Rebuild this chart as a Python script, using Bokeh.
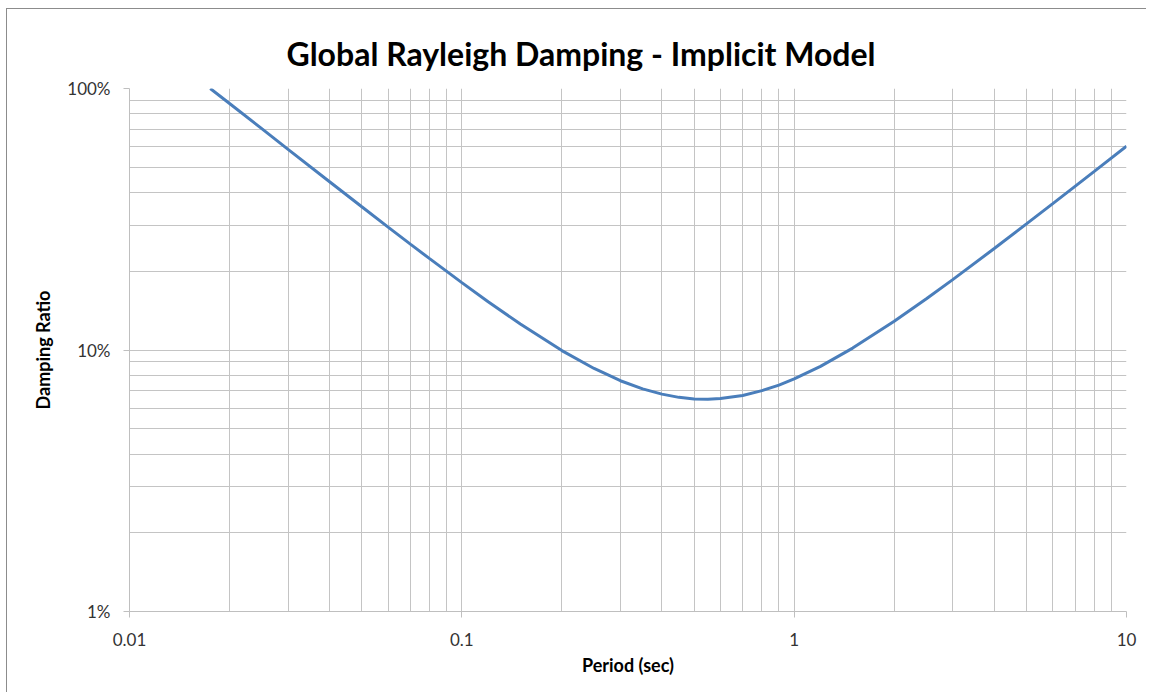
from bokeh.plotting import figure
from bokeh.models import FixedTicker, CustomJSTickFormatter, ColumnDataSource
from bokeh.embed import file_html
from bokeh.resources import INLINE

# Data
period = [0.0175, 0.02, 0.025, 0.03, 0.04, 0.05, 0.06, 0.07, 0.08, 0.1, 0.12, 0.15,
          0.2, 0.25, 0.3, 0.35, 0.4, 0.45, 0.5, 0.55, 0.6, 0.7, 0.8, 0.9, 1.0,
          1.2, 1.5, 2.0, 2.5, 3.0, 4.0, 5.0, 6.0, 7.0, 8.0, 10.0]
damping = [1.0, 0.876, 0.702, 0.585, 0.440, 0.353, 0.295, 0.254, 0.2235, 0.181, 0.153, 0.1257,
           0.0995, 0.085, 0.0763, 0.071, 0.0678, 0.0659, 0.065, 0.0648, 0.0652, 0.067, 0.0699, 0.0734, 0.0775,
           0.0866, 0.1017, 0.1288, 0.157, 0.1858, 0.2444, 0.3035, 0.3629, 0.4225, 0.4822, 0.6018]

x_major = [0.01, 0.1, 1, 10]
y_major = [0.01, 0.1, 1]
x_grid = [m * d for d in [0.01, 0.1, 1] for m in range(1, 10)] + [10]
y_grid = [m * d for d in [0.01, 0.1] for m in range(1, 10)] + [1]

title_text = "Global Rayleigh Damping - Implicit Model"
x_label = "Period (sec)"
y_label = "Damping Ratio"

src = ColumnDataSource(dict(period=period, damping=damping))

p = figure(width=1140, height=684, x_axis_type="log", y_axis_type="log",
           x_range=(0.01, 10), y_range=(0.01, 1),
           output_backend="svg", toolbar_location=None,
           min_border_left=122, min_border_right=21, min_border_top=79, min_border_bottom=82,
           title=title_text)
p.styles = {"border-left": "1px solid #8c8c8c", "border-top": "1px solid #8c8c8c",
            "margin-left": "6px", "margin-top": "8px"}

p.title.text_font = "Lato"
p.title.text_font_size = "32px"
p.title.text_font_style = "bold"
p.title.text_color = "#000000"
p.title.align = "left"
p.title.offset = 157
p.title.standoff = 32

p.outline_line_color = None
p.background_fill_color = "white"
p.border_fill_color = "white"

p.line("period", "damping", source=src, line_color="#4a7ebb", line_width=3)

for ax in (p.xaxis[0], p.yaxis[0]):
    ax.axis_line_color = "#bfbfbf"
    ax.major_tick_line_color = "#bfbfbf"
    ax.minor_tick_line_color = None
    ax.major_tick_in = 0
    ax.major_tick_out = 6
    ax.major_label_text_font = "Lato"
    ax.major_label_text_font_size = "17px"
    ax.major_label_text_color = "#333333"
    ax.axis_label_text_font = "Lato"
    ax.axis_label_text_font_size = "18px"
    ax.axis_label_text_font_style = "bold"
    ax.axis_label_text_color = "#000000"

p.xaxis[0].ticker = FixedTicker(ticks=x_major)
p.yaxis[0].ticker = FixedTicker(ticks=y_major)
p.xaxis[0].formatter = CustomJSTickFormatter(code="return tick >= 1 ? tick.toFixed(0) : parseFloat(tick.toPrecision(1)).toString();")
p.yaxis[0].formatter = CustomJSTickFormatter(code="return Math.round(tick*100).toString() + '%';")
p.xaxis[0].axis_label = x_label
p.yaxis[0].axis_label = y_label
p.xaxis[0].major_label_standoff = 15
p.yaxis[0].major_label_standoff = 13
p.xaxis[0].axis_label_standoff = 5
p.yaxis[0].axis_label_standoff = 10

p.xgrid[0].ticker = FixedTicker(ticks=x_grid)
p.ygrid[0].ticker = FixedTicker(ticks=y_grid)
for g in (p.xgrid[0], p.ygrid[0]):
    g.grid_line_color = "#c4c4c4"
    g.grid_line_width = 1

open("out.html", "w").write(file_html(p, INLINE))
